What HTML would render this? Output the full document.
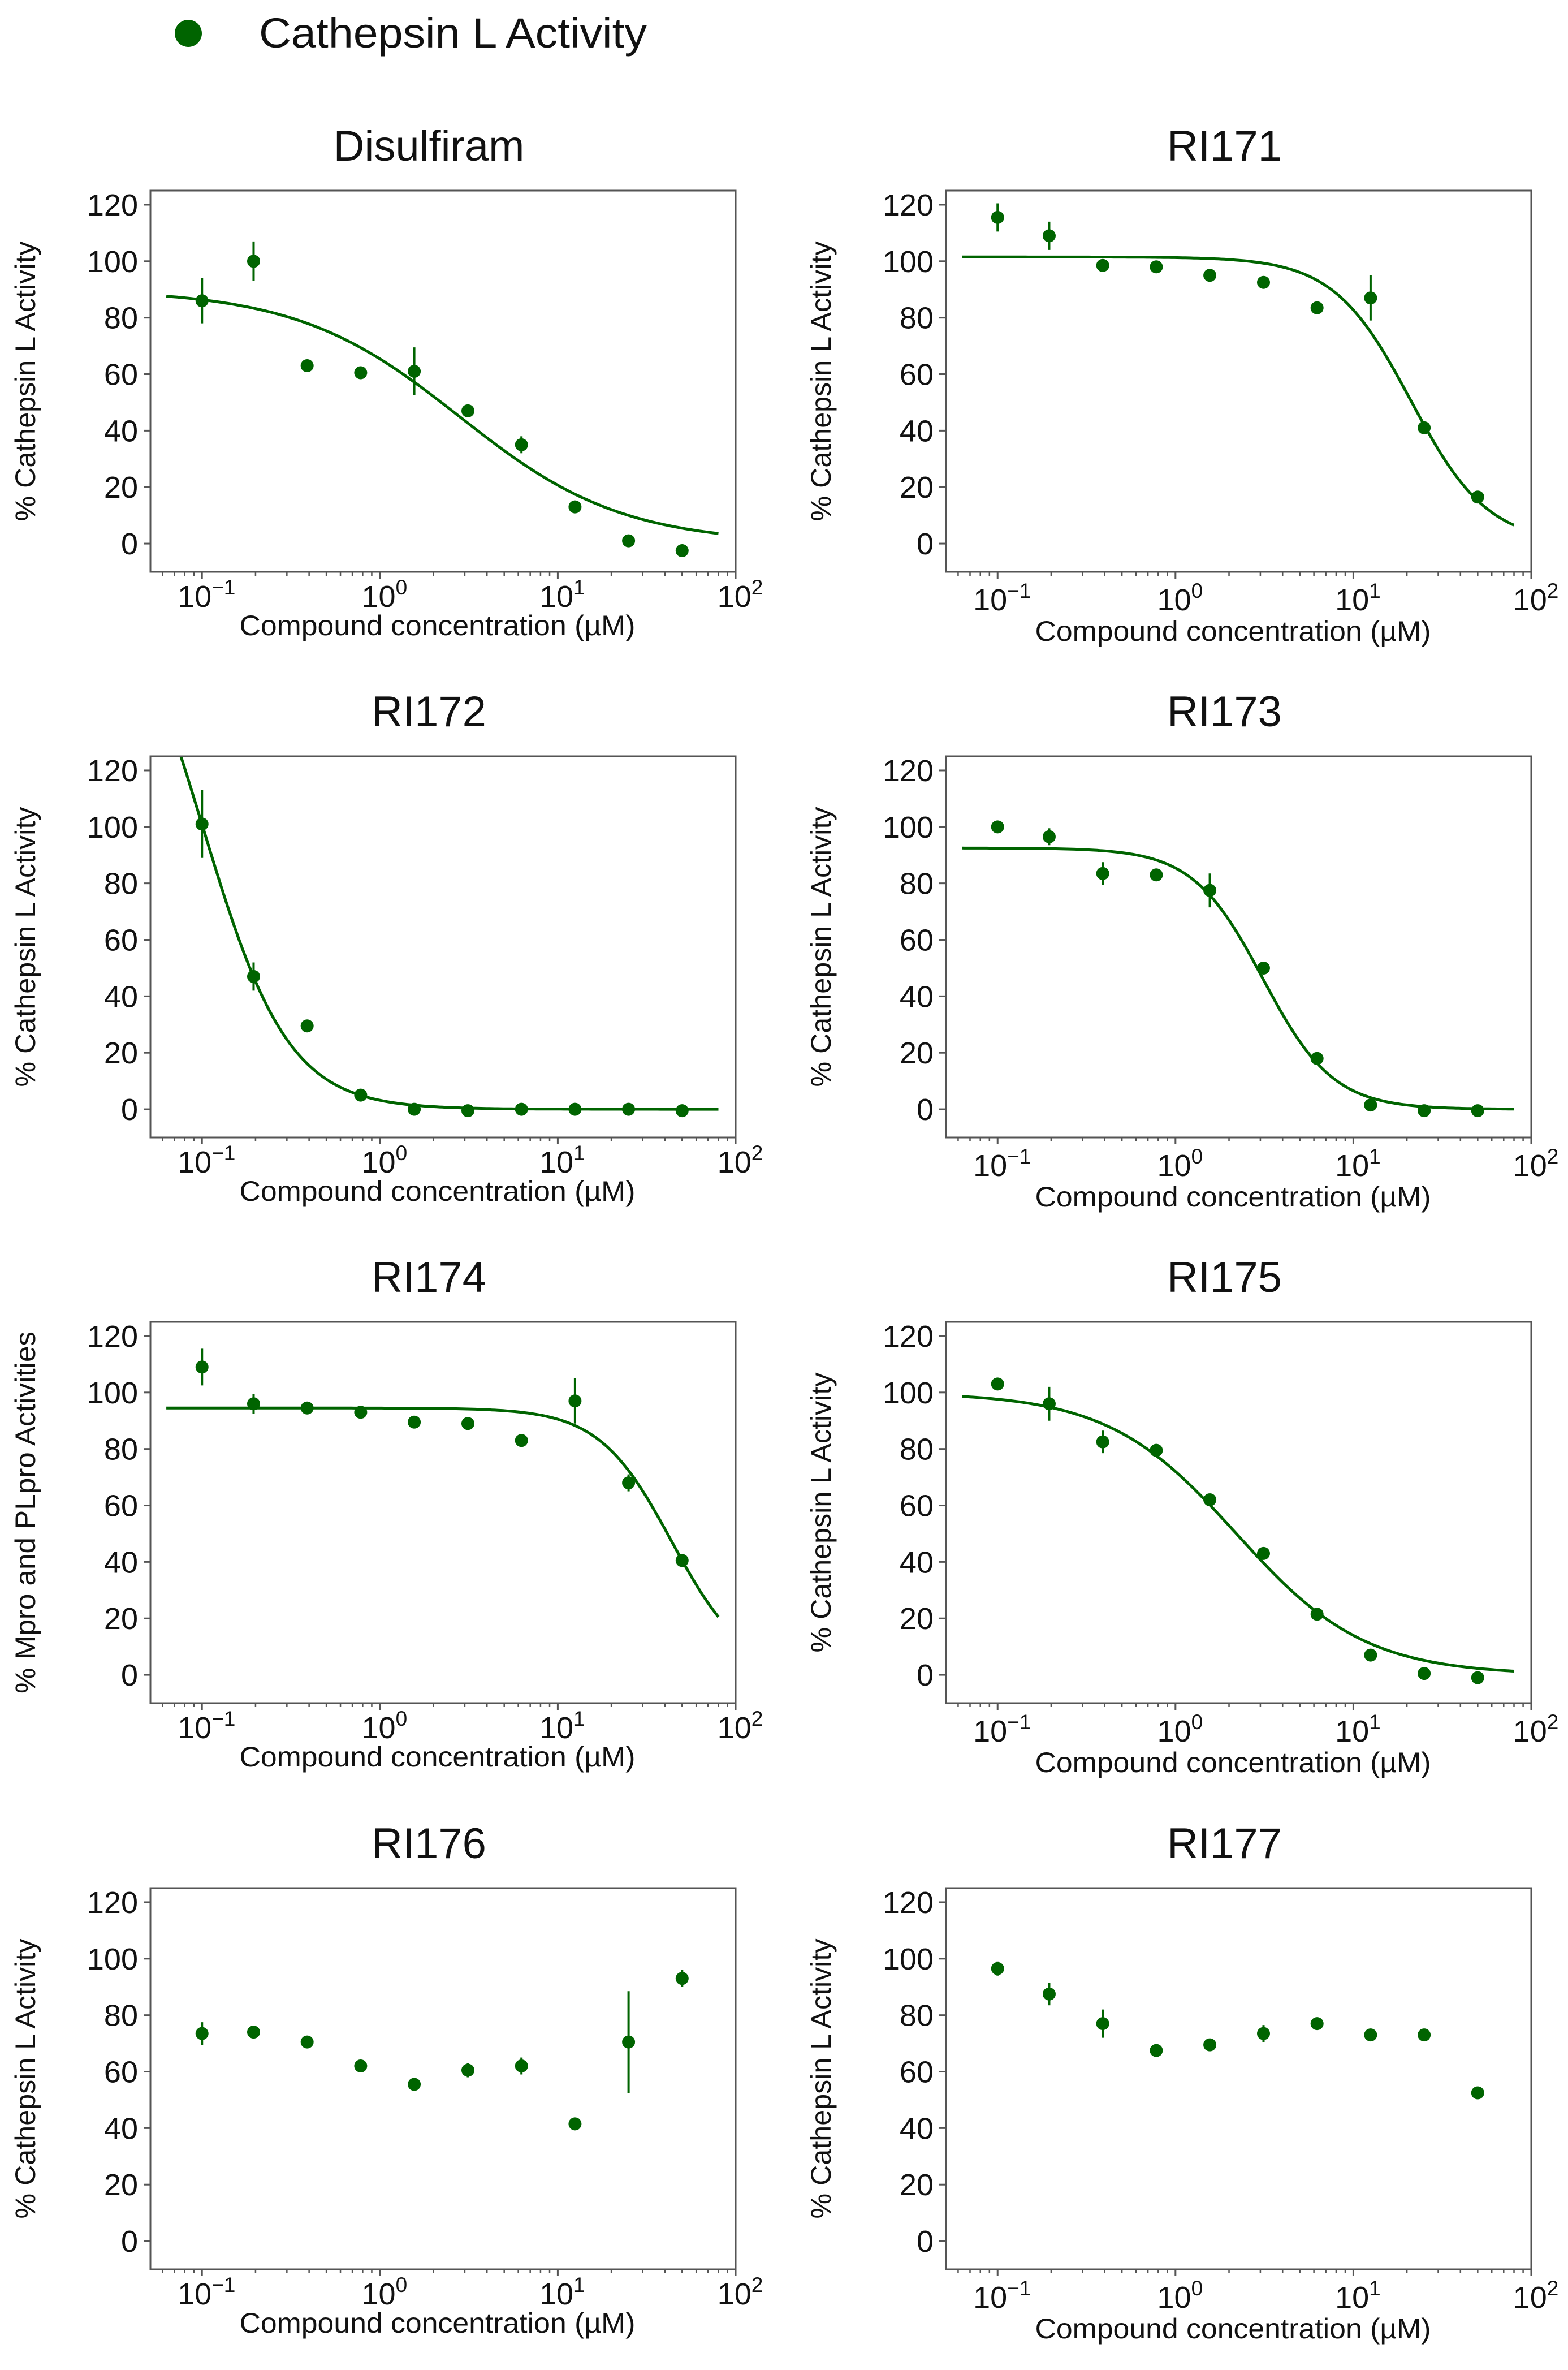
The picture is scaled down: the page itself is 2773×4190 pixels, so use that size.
<!DOCTYPE html>
<html><head><meta charset="utf-8"><style>
html,body{margin:0;padding:0;background:#fff;}
svg{display:block;}
text{font-family:"Liberation Sans","DejaVu Sans",sans-serif;fill:#111;}
</style></head><body>
<svg id="fig" width="2773" height="4190" viewBox="0 0 2773 4190" xmlns="http://www.w3.org/2000/svg">
<g>
<circle cx="333" cy="59" r="24" fill="#006400"/>
<text x="458" y="84" font-size="74" textLength="686" lengthAdjust="spacingAndGlyphs">Cathepsin L Activity</text>
</g>
</svg>
<script>
// shared x concentrations (µM)
const concentrations = [0.1, 0.195, 0.39, 0.78, 1.56, 3.125, 6.25, 12.5, 25, 50];
const yTicks = [0, 20, 40, 60, 80, 100, 120];
const xTickExps = [-1, 0, 1, 2];
const xTickLabels = ["\u22121", "0", "1", "2"];
const panelTitles = ["Disulfiram", "RI171", "RI172", "RI173", "RI174", "RI175", "RI176", "RI177"];
const yLabels = ["% Cathepsin L Activity", "% Cathepsin L Activity", "% Cathepsin L Activity", "% Cathepsin L Activity", "% Mpro and PLpro Activities", "% Cathepsin L Activity", "% Cathepsin L Activity", "% Cathepsin L Activity"];
// mean values per panel
const valsDisulfiram = [86, 100, 63, 60.5, 61, 47, 35, 13, 1, -2.5];
const valsRI171 = [115.5, 109, 98.5, 98, 95, 92.5, 83.5, 87, 41, 16.5];
const valsRI172 = [101, 47, 29.5, 5, 0, -0.5, 0, 0, 0, -0.5];
const valsRI173 = [100, 96.5, 83.5, 83, 77.5, 50, 18, 1.5, -0.5, -0.5];
const valsRI174 = [109, 96, 94.5, 93, 89.5, 89, 83, 97, 68, 40.5];
const valsRI175 = [103, 96, 82.5, 79.5, 62, 43, 21.5, 7, 0.5, -1];
const valsRI176 = [73.5, 74, 70.5, 62, 55.5, 60.5, 62, 41.5, 70.5, 93];
const valsRI177 = [96.5, 87.5, 77, 67.5, 69.5, 73.5, 77, 73, 73, 52.5];
// error bar half-lengths
const errDisulfiram = [8, 7, 1, 1, 8.5, 1, 3, 1, 1, 1];
const errRI171 = [5, 5, 1, 1, 1, 1, 1, 8, 1, 1];
const errRI172 = [12, 5, 1, 1, 1, 1, 1, 1, 1, 1];
const errRI173 = [1, 3, 4, 1, 6, 1, 1, 1, 1, 1];
const errRI174 = [6.5, 3.5, 1, 1, 1, 1, 1, 8, 3, 1];
const errRI175 = [2, 6, 4, 1, 1, 1, 1, 1, 1, 1];
const errRI176 = [4, 1, 1, 1, 1, 2.5, 3, 1, 18, 3];
const errRI177 = [2.5, 4, 5, 1, 1, 3, 1, 1, 1, 1];
// fitted 4PL curve params: [top, bottom, IC50, hill] (null = no fit)
const fitDisulfiram = [90, 0, 2.8, 0.95];
const fitRI171 = [101.5, 0, 21, 2];
const fitRI172 = [200, 0, 0.101, 1.8];
const fitRI173 = [92.5, 0, 3.1, 2.2];
const fitRI174 = [94.5, 0, 43.7, 2.12];
const fitRI175 = [100, 0, 2.2, 1.2];
const fitRI176 = null;
const fitRI177 = null;
const curveRange = [0.063, 80];

const allVals = [valsDisulfiram, valsRI171, valsRI172, valsRI173, valsRI174, valsRI175, valsRI176, valsRI177];
const allErr = [errDisulfiram, errRI171, errRI172, errRI173, errRI174, errRI175, errRI176, errRI177];
const allFit = [fitDisulfiram, fitRI171, fitRI172, fitRI173, fitRI174, fitRI175, fitRI176, fitRI177];

const NS = "http://www.w3.org/2000/svg";
const svg = document.getElementById("fig");
const GREEN = "#006400", FRAME = "#555";
function mk(tag, attrs, parent) {
  const e = document.createElementNS(NS, tag);
  for (const k in attrs) e.setAttribute(k, attrs[k]);
  parent.appendChild(e);
  return e;
}
const colX = [266, 1673];
const rowTop = [337, 1337, 2337, 3338];
const W = 1035, H = 674;
const XMINLOG = -1.29, XMAXLOG = 2, YMIN = -10, YMAX = 125;

allVals.forEach((vals, i) => {
  const L = colX[i % 2], T = rowTop[Math.floor(i / 2)];
  const right = i % 2 === 1;
  const xs = v => L + (Math.log10(v) - XMINLOG) / (XMAXLOG - XMINLOG) * W;
  const ys = v => T + (YMAX - v) / (YMAX - YMIN) * H;
  const g = mk("g", {}, svg);
  
  

  const title = mk("text", {x: L + W / 2 - 25, y: T - 53, "font-size": 76, "text-anchor": "middle"}, g);
  
  
  title.textContent = panelTitles[i];

  const clipId = "clip" + i;
  const cp = mk("clipPath", {id: clipId}, g);
  mk("rect", {x: L, y: T, width: W, height: H}, cp);

  const fit = allFit[i];
  if (fit) {
    const [top, bot, ic, h] = fit;
    let d = "";
    const n = 200;
    const a = Math.log10(curveRange[0]), b = Math.log10(curveRange[1]);
    for (let k = 0; k <= n; k++) {
      const x = Math.pow(10, a + (b - a) * k / n);
      const y = bot + (top - bot) / (1 + Math.pow(x / ic, h));
      d += (k ? "L" : "M") + xs(x).toFixed(1) + "," + ys(y).toFixed(1);
    }
    const p = mk("path", {d: d, fill: "none", stroke: GREEN, "stroke-width": 5, "clip-path": "url(#" + clipId + ")"}, g);
    
    
  }
  vals.forEach((v, j) => {
    const x = xs(concentrations[j]), e = allErr[i][j];
    const eb = mk("line", {x1: x, x2: x, y1: ys(v + e), y2: ys(v - e), stroke: GREEN, "stroke-width": 4}, g);
    
    
    const c = mk("circle", {cx: x, cy: ys(v), r: 11.5, fill: GREEN}, g);
    
    
  });
  const fr = mk("rect", {x: L, y: T, width: W, height: H, fill: "none", stroke: FRAME, "stroke-width": 3}, g);
  
  
  yTicks.forEach(t => {
    const y = ys(t);
    mk("line", {x1: L - 12, x2: L, y1: y, y2: y, stroke: FRAME, "stroke-width": 3}, g);
    const tl = mk("text", {x: L - 22, y: y + 19, "font-size": 54, "text-anchor": "end"}, g);
    
    
    tl.textContent = t;
  });
  for (let dec = -2; dec <= 2; dec++) {
    for (let m = 1; m <= 9; m++) {
      const v = m * Math.pow(10, dec);
      const lv = Math.log10(v);
      if (lv < XMINLOG - 1e-9 || lv > XMAXLOG + 1e-9) continue;
      const x = xs(v);
      mk("line", {x1: x, x2: x, y1: T + H, y2: T + H + (m === 1 ? 12 : 7), stroke: FRAME, "stroke-width": m === 1 ? 3 : 2.5}, g);
    }
  }
  xTickExps.forEach((ex, k) => {
    const x = xs(Math.pow(10, ex));
    const tl = mk("text", {x: x + 8, y: T + H + (right ? 68 : 62), "font-size": 54, "text-anchor": "middle"}, g);
    
    
    tl.appendChild(document.createTextNode("10"));
    const sup = mk("tspan", {dy: -22, "font-size": 37}, tl);
    sup.textContent = xTickLabels[k];
  });
  const xl = mk("text", {x: L + W / 2 - 10, y: T + H + (right ? 122 : 112), "font-size": 50, "text-anchor": "middle", textLength: 700, lengthAdjust: "spacingAndGlyphs"}, g);
  
  
  xl.textContent = "Compound concentration (\u00b5M)";
  const yc = T + H / 2, yx = L - 220 + 16;
  const yl = mk("text", {x: 0, y: 0, "font-size": 50, "text-anchor": "middle", transform: "translate(" + yx + "," + yc + ") rotate(-90)", textLength: (i === 4 ? 640 : 495), lengthAdjust: "spacingAndGlyphs"}, g);
  
  
  yl.textContent = yLabels[i];
});
</script>
</body></html>
